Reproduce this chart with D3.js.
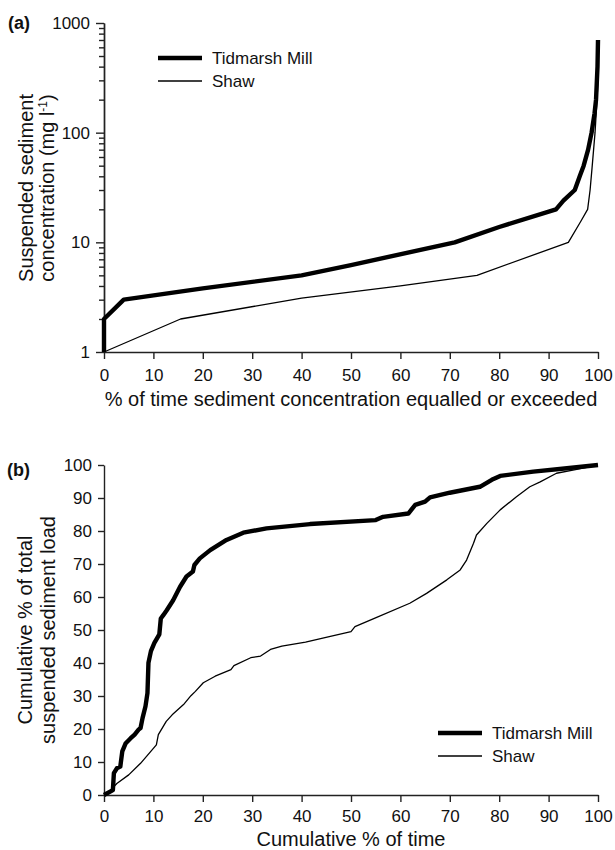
<!DOCTYPE html>
<html>
<head>
<meta charset="utf-8">
<script src="https://cdn.jsdelivr.net/npm/d3@7"></script>
<style>
  body { margin: 0; background: #fff; }
  svg { display: block; font-family: "Liberation Sans", Arial, Helvetica, sans-serif; }
  .axis path, .axis line { stroke: #222; stroke-width: 1.4; }
  .axis text { font-size: 17px; fill: #111; font-family: "Liberation Sans", Arial, sans-serif; }
</style>
</head>
<body>
<svg id="chart" width="615" height="850"></svg>
<script>
"use strict";

const SERIES_NAMES = ["Tidmarsh Mill", "Shaw"];
const PCT_TICKS = [0, 10, 20, 30, 40, 50, 60, 70, 80, 90, 100];
const CONC_TICKS = [1, 10, 100, 1000];

// (a) duration curves: % of time equalled or exceeded vs concentration (mg/l)
const DUR_TIME_TIDMARSH = [0, 0, 4, 20, 40, 50, 71, 80, 91.5, 93, 95.3, 96.3, 97.1, 98, 98.7, 99.3, 99.6, 99.9, 100];
const DUR_CONC_TIDMARSH = [1, 2, 3, 3.8, 5, 6.2, 10, 13.8, 20, 24, 30, 40, 50, 70, 100, 150, 200, 400, 700];
const DUR_TIME_SHAW = [0, 15.5, 40, 60, 75.5, 94, 96.5, 97.9, 98.4, 98.8, 99.4, 99.8, 100];
const DUR_CONC_SHAW = [1, 2, 3.1, 4, 5, 10, 15.5, 20, 30, 48, 100, 200, 300];

// (b) cumulative % of time vs cumulative % of total load
const CUM_TIME_TIDMARSH = [0, 1.8, 2.0, 2.6, 3.3, 3.7, 4.4, 5.4, 6.2, 7.0, 7.4, 7.8, 8.4, 8.8, 9.0, 9.5, 10.2, 11.2, 11.5, 12.0, 12.7, 14.0, 15.4, 16.7, 18.0, 18.3, 19.4, 21.5, 24.8, 28.2, 32.9, 41.7, 55.0, 56.5, 61.6, 63.0, 65.0, 66.0, 70.0, 76.1, 78.5, 80.2, 86.9, 93.7, 100];
const CUM_LOAD_TIDMARSH = [0, 1.5, 6.6, 8.1, 8.6, 13.2, 15.7, 17.2, 18.3, 19.8, 20.3, 23.3, 26.9, 30.9, 40.1, 43.6, 46.1, 48.7, 53.5, 54.5, 56, 59, 63.1, 66.2, 67.7, 69.7, 71.7, 74.2, 77.3, 79.5, 80.8, 82.1, 83.3, 84.3, 85.3, 87.9, 88.9, 90.2, 91.6, 93.4, 95.5, 96.7, 98.0, 99.0, 100];
const CUM_TIME_SHAW = [0, 1.0, 2.6, 5.0, 7.4, 10.6, 11.0, 12.6, 13.8, 16.1, 17.6, 18.5, 20.1, 22.5, 25.7, 26.3, 29.7, 31.7, 33.7, 36.0, 40.8, 45.6, 50.0, 50.8, 55.2, 61.9, 65.3, 69.4, 72.1, 73.4, 74.8, 75.4, 77.5, 80.2, 83.5, 86.2, 88.3, 91.6, 95.7, 100];
const CUM_LOAD_SHAW = [0, 1.0, 3.5, 6.1, 9.6, 15.2, 18.3, 22.3, 24.3, 27.4, 30.1, 31.4, 34.0, 36.0, 38.0, 39.2, 41.6, 42.1, 44.1, 45.1, 46.3, 48.0, 49.5, 51.0, 53.8, 58.1, 61.1, 65.2, 68.2, 71.2, 76.3, 78.8, 82.3, 86.4, 90.4, 93.4, 94.9, 97.5, 98.7, 100];

const THICK = 4.4;
const THIN = 1.3;
const FONT = "'Liberation Sans', Arial, Helvetica, sans-serif";

const svg = d3.select("#chart");

function zip(xs, ys) {
  return xs.map((x, i) => [x, ys[i]]);
}

function drawSeries(x, y, xs, ys, width) {
  const line = d3.line().x((d) => x(d[0])).y((d) => y(d[1]));
  svg.append("path")
    .datum(zip(xs, ys))
    .attr("d", line)
    .attr("fill", "none")
    .attr("stroke", "#000")
    .attr("stroke-width", width)
    .attr("stroke-linejoin", "round")
    .attr("stroke-linecap", "butt");
}

function drawLegend(x0, y0) {
  [THICK, THIN].forEach((w, i) => {
    const yy = y0 + i * 23;
    svg.append("line")
      .attr("x1", x0).attr("x2", x0 + 44)
      .attr("y1", yy).attr("y2", yy)
      .attr("stroke", "#000").attr("stroke-width", w);
    svg.append("text")
      .attr("x", x0 + 54).attr("y", yy + 6)
      .attr("font-size", 17).attr("fill", "#111")
      .text(SERIES_NAMES[i]);
  });
}

function yTitle(lines, xs, yc) {
  lines.forEach((t, i) => {
    const txt = svg.append("text")
      .attr("transform", `translate(${xs[i]},${yc}) rotate(-90)`)
      .attr("text-anchor", "middle")
      .attr("font-size", 20).attr("fill", "#111");
    if (typeof t === "string") {
      txt.text(t);
    } else {
      txt.append("tspan").text(t[0]);
      txt.append("tspan").attr("font-size", 12).attr("dy", -7).text(t[1]);
      txt.append("tspan").attr("dy", 7).text(t[2]);
    }
  });
}

// ---------- panel (a) ----------
const xA = d3.scaleLinear().domain([0, 100]).range([104, 598]);
const yA = d3.scaleLog().domain([1, 1000]).range([352, 23]);

svg.append("g").attr("class", "axis")
  .attr("transform", `translate(0,${yA(1)})`)
  .call(d3.axisBottom(xA).tickValues(PCT_TICKS).tickSize(7).tickPadding(10).tickSizeOuter(0));

const minorA = [];
CONC_TICKS.slice(0, -1).forEach((d) => {
  for (let k = 2; k < 10; k++) minorA.push(d * k);
});
svg.append("g").attr("class", "axis")
  .attr("transform", `translate(${xA(0)},0)`)
  .call(d3.axisLeft(yA).tickValues(minorA).tickSize(5).tickFormat("").tickSizeOuter(0));
svg.append("g").attr("class", "axis")
  .attr("transform", `translate(${xA(0)},0)`)
  .call(d3.axisLeft(yA).tickValues(CONC_TICKS).tickFormat(d3.format("d")).tickSize(8).tickPadding(6).tickSizeOuter(0));

drawSeries(xA, yA, DUR_TIME_SHAW, DUR_CONC_SHAW, THIN);
drawSeries(xA, yA, DUR_TIME_TIDMARSH, DUR_CONC_TIDMARSH, THICK);
drawLegend(158, 58);

svg.append("text")
  .attr("x", (xA(0) + xA(100)) / 2).attr("y", 406)
  .attr("text-anchor", "middle").attr("font-size", 20).attr("fill", "#111")
  .text("% of time sediment concentration equalled or exceeded");
yTitle(["Suspended sediment", ["concentration (mg l", "-1", ")"]], [33, 54], 188);

svg.append("text")
  .attr("x", 8).attr("y", 29)
  .attr("font-size", 18).attr("font-weight", "bold").attr("fill", "#111")
  .text("(a)");

// ---------- panel (b) ----------
const xB = d3.scaleLinear().domain([0, 100]).range([104, 598]);
const yB = d3.scaleLinear().domain([0, 100]).range([795, 465]);

svg.append("g").attr("class", "axis")
  .attr("transform", `translate(0,${yB(0)})`)
  .call(d3.axisBottom(xB).tickValues(PCT_TICKS).tickSize(7).tickPadding(8).tickSizeOuter(0));
svg.append("g").attr("class", "axis")
  .attr("transform", `translate(${xB(0)},0)`)
  .call(d3.axisLeft(yB).tickValues(PCT_TICKS).tickSize(6).tickPadding(6).tickSizeOuter(0));

drawSeries(xB, yB, CUM_TIME_SHAW, CUM_LOAD_SHAW, THIN);
drawSeries(xB, yB, CUM_TIME_TIDMARSH, CUM_LOAD_TIDMARSH, THICK);
drawLegend(438, 733);

svg.append("text")
  .attr("x", (xB(0) + xB(100)) / 2).attr("y", 846)
  .attr("text-anchor", "middle").attr("font-size", 20).attr("fill", "#111")
  .text("Cumulative % of time");
yTitle(["Cumulative % of total", "suspended sediment load"], [32, 55], 630);

svg.append("text")
  .attr("x", 7).attr("y", 476)
  .attr("font-size", 18).attr("font-weight", "bold").attr("fill", "#111")
  .text("(b)");
</script>
</body>
</html>
